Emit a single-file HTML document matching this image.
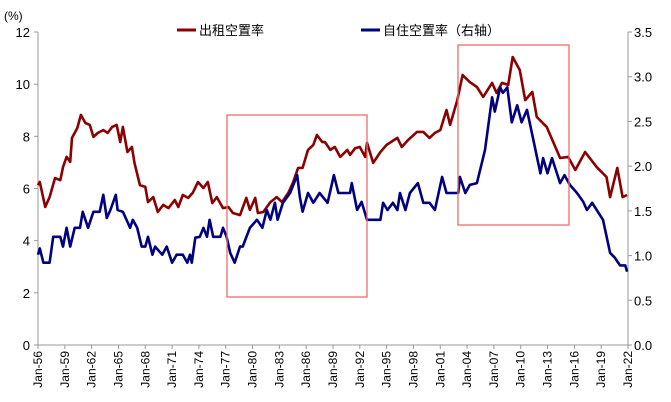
<!DOCTYPE html>
<html><head><meta charset="utf-8">
<style>
html,body{margin:0;padding:0;background:#fff;}
svg{display:block;font-family:"Liberation Sans","Noto Sans CJK SC",sans-serif;}
</style></head>
<body>
<svg id="chart" width="671" height="402" viewBox="0 0 671 402">
  <text x="4" y="20" font-size="12" fill="#000">(%)</text>
  <g id="axes"></g>
  <g id="series"></g>
  <rect x="227" y="115" width="140" height="182" fill="none" stroke="#f26b6b" stroke-width="1.3"/>
  <rect x="458" y="45" width="111" height="180" fill="none" stroke="#f26b6b" stroke-width="1.3"/>
  <g>
    <line x1="177" y1="30" x2="196" y2="30" stroke="#8b0000" stroke-width="3"/>
    <text x="199" y="35" font-size="13">出租空置率</text>
    <line x1="361" y1="30" x2="380" y2="30" stroke="#000080" stroke-width="3"/>
    <text x="383" y="35" font-size="13">自住空置率（右轴）</text>
  </g>
</svg>
<script>
const leftTicks=[0,2,4,6,8,10,12];
const rightTicks=["0.0","0.5","1.0","1.5","2.0","2.5","3.0","3.5"];
const xTickYears=[1956,1959,1962,1965,1968,1971,1974,1977,1980,1983,1986,1989,1992,1995,1998,2001,2004,2007,2010,2013,2016,2019,2022];
const rentalYears=[1956.0,1956.2,1956.8,1957.3,1957.9,1958.5,1958.8,1959.2,1959.6,1959.8,1960.4,1960.8,1961.3,1961.8,1962.2,1962.7,1963.3,1963.8,1964.3,1964.8,1965.2,1965.5,1966.0,1966.5,1966.8,1967.4,1968.0,1968.3,1968.9,1969.4,1970.0,1970.6,1971.3,1971.7,1972.2,1972.8,1973.3,1973.9,1974.5,1975.0,1975.5,1976.0,1976.7,1977.3,1977.8,1978.6,1979.3,1979.7,1980.3,1980.6,1981.2,1982.0,1982.7,1983.3,1984.0,1984.5,1985.1,1985.6,1986.2,1986.8,1987.2,1987.8,1988.1,1988.7,1989.2,1989.8,1990.6,1990.9,1991.5,1992.0,1992.6,1992.8,1993.5,1994.3,1995.0,1996.2,1996.7,1997.4,1998.4,1999.1,1999.8,2000.4,2001.0,2001.7,2002.1,2002.9,2003.5,2004.3,2005.1,2005.8,2006.8,2007.3,2007.9,2008.6,2009.1,2009.9,2010.5,2011.3,2011.8,2012.9,2014.4,2015.3,2016.1,2017.2,2018.5,2019.6,2020.0,2020.8,2021.4,2021.9];
const rentalValues=[6.13,6.25,5.29,5.67,6.40,6.32,6.82,7.21,7.02,7.94,8.32,8.82,8.51,8.44,7.98,8.13,8.24,8.13,8.36,8.44,7.78,8.36,7.40,7.59,6.98,6.13,6.06,5.48,5.67,5.10,5.37,5.25,5.56,5.29,5.75,5.64,5.83,6.25,6.02,6.25,5.44,5.67,5.25,5.29,5.06,4.98,5.64,5.18,5.64,5.06,5.10,5.48,5.67,5.48,5.83,6.21,6.79,6.79,7.48,7.67,8.05,7.78,7.78,7.48,7.59,7.21,7.48,7.29,7.55,7.59,7.21,7.75,6.98,7.40,7.67,7.94,7.59,7.86,8.17,8.17,7.94,8.13,8.24,9.01,8.44,9.39,10.35,10.08,9.89,9.51,10.05,9.66,10.05,9.97,11.04,10.54,9.39,9.70,8.74,8.36,7.17,7.21,6.71,7.40,6.82,6.44,5.67,6.79,5.67,5.75];
const ownerYears=[1956.0,1956.2,1956.6,1957.3,1957.7,1958.5,1958.8,1959.2,1959.6,1960.1,1960.7,1961.0,1961.6,1962.2,1962.9,1963.3,1963.7,1964.1,1964.7,1964.9,1965.5,1966.3,1966.6,1967.1,1967.6,1968.0,1968.3,1968.8,1969.1,1969.9,1970.4,1971.0,1971.5,1972.2,1972.7,1973.0,1973.2,1973.6,1974.1,1974.5,1974.9,1975.2,1975.6,1976.4,1976.7,1977.1,1977.5,1978.0,1978.6,1978.9,1979.7,1980.5,1981.1,1981.6,1982.0,1982.5,1982.8,1983.4,1984.2,1985.0,1985.3,1985.6,1986.2,1986.8,1987.5,1988.4,1989.1,1989.6,1990.9,1991.1,1991.7,1992.2,1992.8,1994.3,1994.6,1995.1,1995.7,1996.2,1996.5,1997.1,1997.6,1998.5,1999.1,1999.8,2000.4,2001.2,2001.7,2003.0,2003.2,2003.8,2004.3,2005.1,2006.0,2006.8,2007.1,2007.7,2008.0,2008.5,2009.0,2009.6,2010.1,2010.7,2012.2,2012.5,2013.0,2013.5,2014.4,2014.9,2015.5,2016.3,2017.0,2017.4,2018.0,2018.5,2019.2,2020.0,2020.5,2021.1,2021.7,2021.9];
const ownerValues=[1.01,1.08,0.92,0.92,1.21,1.21,1.10,1.31,1.10,1.31,1.31,1.49,1.31,1.49,1.49,1.68,1.42,1.51,1.68,1.51,1.49,1.31,1.40,1.31,1.10,1.10,1.21,1.01,1.10,1.01,1.10,0.92,1.01,1.01,0.92,1.01,0.92,1.20,1.21,1.31,1.21,1.40,1.21,1.21,1.31,1.21,1.03,0.92,1.10,1.10,1.31,1.40,1.31,1.51,1.40,1.59,1.40,1.59,1.70,1.90,1.65,1.49,1.70,1.59,1.70,1.59,1.90,1.70,1.70,1.81,1.51,1.60,1.40,1.40,1.59,1.51,1.59,1.51,1.70,1.51,1.70,1.81,1.59,1.59,1.51,1.88,1.70,1.70,1.88,1.70,1.79,1.81,2.18,2.77,2.61,2.88,2.82,2.88,2.49,2.68,2.49,2.63,1.92,2.09,1.92,2.09,1.81,1.90,1.79,1.70,1.60,1.51,1.59,1.51,1.40,1.03,0.98,0.89,0.89,0.82];

const NS="http://www.w3.org/2000/svg";
const X0=38,X1=628,Y0=345,Y1=32;
const xs=y=>X0+(y-1956)/(2022-1956)*(X1-X0);
const yl=v=>Y0-v/12*(Y0-Y1);
const yr=v=>Y0-v/3.5*(Y0-Y1);
function mk(tag,attrs,parent){const e=document.createElementNS(NS,tag);for(const k in attrs)e.setAttribute(k,attrs[k]);parent.appendChild(e);return e;}
const ax=document.getElementById('axes');
let e;
e=mk('line',{x1:X0,y1:Y1,x2:X0,y2:Y0,stroke:'#999','stroke-width':1},ax);


e=mk('line',{x1:X1,y1:Y1,x2:X1,y2:Y0,stroke:'#999','stroke-width':1},ax);


e=mk('line',{x1:X0,y1:Y0,x2:X1,y2:Y0,stroke:'#999','stroke-width':1},ax);


leftTicks.forEach(v=>{
  mk('line',{x1:X0-4,y1:yl(v),x2:X0,y2:yl(v),stroke:'#999'},ax);
  const t=mk('text',{x:X0-8,y:yl(v)+5,'font-size':13,'text-anchor':'end'},ax);
  t.textContent=v;
  
  
});
rightTicks.forEach(v=>{
  mk('line',{x1:X1,y1:yr(+v),x2:X1+4,y2:yr(+v),stroke:'#999'},ax);
  const t=mk('text',{x:X1+6,y:yr(+v)+5,'font-size':13},ax);
  t.textContent=v;
  
  
});
xTickYears.forEach(yv=>{
  const x=xs(yv);
  mk('line',{x1:x,y1:Y0,x2:x,y2:Y0+4,stroke:'#999'},ax);
  const t=mk('text',{x:0,y:0,'font-size':12,'text-anchor':'end',transform:`translate(${x+4},${Y0+6}) rotate(-90)`},ax);
  t.textContent='Jan-'+String(yv).slice(2);
  
  
});
const sg=document.getElementById('series');
const pr=rentalYears.map((y,i)=>xs(y).toFixed(1)+','+yl(rentalValues[i]).toFixed(1)).join(' ');
e=mk('polyline',{points:pr,fill:'none',stroke:'#8b0000','stroke-width':2.6,'stroke-linejoin':'round'},sg);


const po=ownerYears.map((y,i)=>xs(y).toFixed(1)+','+yr(ownerValues[i]).toFixed(1)).join(' ');
e=mk('polyline',{points:po,fill:'none',stroke:'#000080','stroke-width':2.6,'stroke-linejoin':'round'},sg);


</script>
</body></html>
